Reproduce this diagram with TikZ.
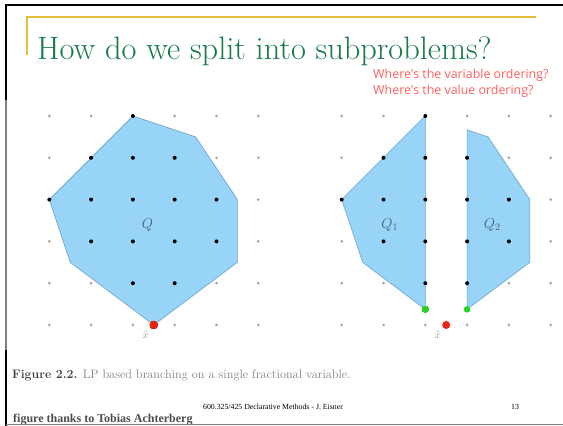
\documentclass[tikz,border=0pt]{standalone}
\usepackage{fontspec}
\usepackage{amsmath,amssymb}
\usetikzlibrary{positioning}
\newfontfamily\notefont{Open Sans}
\newfontfamily\slidefont{Liberation Serif}
\tikzset{
  polyln/.style={fill=polycolor, draw=edgecolor, line width=0.6pt, line join=round},
  frameln/.style={line width=1.6pt},
  qlabel/.style={text=labcolor, inner sep=0pt, font=\fontsize{14}{14}\selectfont},
  xlabel/.style={text=gray!80, inner sep=0pt, font=\fontsize{11}{11}\selectfont},
  notetxt/.style={text=notecolor, inner sep=0pt, anchor=base west, font=\notefont\fontsize{12.4}{13}\selectfont},
}
\newcommand{\latpt}[2]{%
  \fill[#1] #2 circle (2pt);
}
\newcommand{\gridpts}{%
  \foreach \i in {0,...,5}
    \foreach \j in {0,...,5}
      \fill[gray!70] (\i,\j) circle (1.5pt);
}
\definecolor{titlecolor}{RGB}{24,122,72}
\definecolor{rulecolor}{RGB}{226,190,60}
\definecolor{notecolor}{RGB}{255,95,95}
\definecolor{polycolor}{RGB}{152,212,248}
\definecolor{edgecolor}{RGB}{110,160,200}
\definecolor{labcolor}{RGB}{70,95,120}
\definecolor{fraccolor}{RGB}{235,35,20}
\definecolor{splitcolor}{RGB}{40,210,40}
\definecolor{captcolor}{RGB}{130,130,130}

\begin{document}
\begin{tikzpicture}[x=1pt, y=1pt]
    \useasboundingbox (0,0) rectangle (563,426);
    \fill[white] (0,0) rectangle (563,426);
    % slide frame
    \draw[frameln] (5,421) -- (563,421);
    \draw[frameln] (6,421) -- (6,326);
    \draw[frameln, gray] (6,326) -- (6,76);
    \draw[frameln] (6,76) -- (6,0);
    \draw[rulecolor, line width=1.1pt] (27,371) -- (27,409) -- (536,409);
    % title and notes
    \node[anchor=base west, inner sep=0pt, text=titlecolor, font=\fontsize{32.4}{34}\selectfont] (title) at (37,366) {How do we split into subproblems?};
    \node[notetxt] (notea) at (373,347) {Where's the variable ordering?};
    \node[notetxt] (noteb) at (373,331) {Where's the value ordering?};
    % original polytope Q
    \begin{scope}[shift={(49.3pt,101pt)}, x=41.8pt, y=41.8pt]
      \draw[polyln] (0,3) -- (2,5) -- (3.5,4.5) -- (4.5,3) -- (4.5,1.5) -- (2.5,0) -- (0.5,1.5) -- cycle;
      \gridpts
      \foreach \p in {(2,5),(1,4),(2,4),(3,4),(0,3),(1,3),(2,3),(3,3),(4,3),(1,2),(2,2),(3,2),(4,2),(2,1),(3,1)}
        \latpt{black}{\p}
      \fill[fraccolor] (2.5,0) circle (4pt);
      \node[qlabel] (q) at (2.35,2.4) {$Q$};
      \node[xlabel] (xt) at (2.3,-0.24) {$\tilde{x}$};
    \end{scope}
    % branching into Q1 and Q2
    \begin{scope}[shift={(341.7pt,101pt)}, x=41.8pt, y=41.8pt]
      \draw[polyln] (0,3) -- (2,5) -- (2,0.375) -- (0.5,1.5) -- cycle;
      \draw[polyln] (3,4.667) -- (3.5,4.5) -- (4.5,3) -- (4.5,1.5) -- (3,0.375) -- cycle;
      \gridpts
      \foreach \p in {(2,5),(1,4),(2,4),(0,3),(1,3),(2,3),(1,2),(2,2),(2,1),(3,4),(3,3),(3,2),(3,1),(4,3),(4,2)}
        \latpt{black}{\p}
      \fill[splitcolor] (2,0.375) circle (3.3pt);
      \fill[splitcolor] (3,0.375) circle (3.3pt);
      \fill[fraccolor] (2.5,0) circle (4pt);
      \node[qlabel] (qa) at (1.15,2.4) {$Q_1$};
      \node[qlabel] (qb) at (3.6,2.4) {$Q_2$};
      \node[xlabel] (xr) at (2.3,-0.24) {$\tilde{x}$};
    \end{scope}
    % caption and footer
    \node[anchor=base west, inner sep=0pt, text=captcolor, font=\fontsize{12.3}{13}\selectfont] (caption) at (12,47) {\textcolor{black!75}{\textbf{Figure 2.2.}} LP based branching on a single fractional variable.};
    \node[anchor=base, inner sep=0pt, font=\slidefont\fontsize{7.8}{9}\selectfont] (footer) at (273,16) {600.325/425 Declarative Methods - J. Eisner};
    \node[anchor=base, inner sep=0pt, font=\slidefont\fontsize{7.8}{9}\selectfont] (pagenum) at (515,16) {13};
    \node[anchor=base west, inner sep=0pt, text=black!70, font=\slidefont\bfseries\fontsize{12}{12}\selectfont] (credit) at (13,3) {figure thanks to Tobias Achterberg};
    \draw[gray, line width=1pt] (6,1.5) -- (563,1.5);
\end{tikzpicture}
\end{document}
